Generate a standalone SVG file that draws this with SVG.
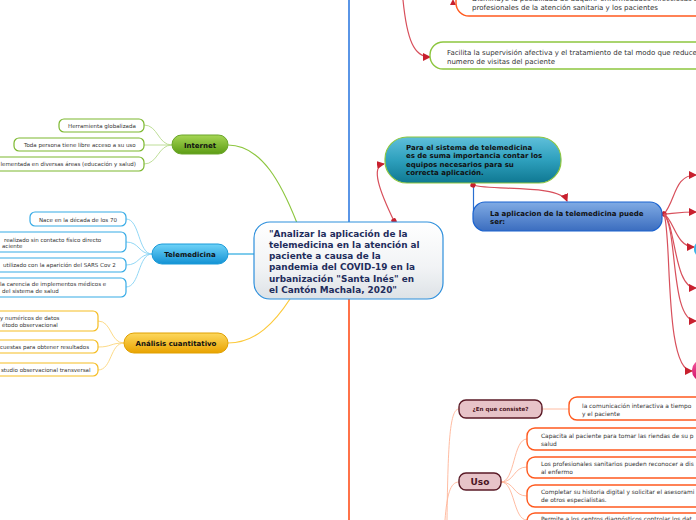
<svg xmlns="http://www.w3.org/2000/svg" width="696" height="520" viewBox="0 0 696 520">
<defs>
<linearGradient id="gCentral" x1="0" y1="0" x2="0" y2="1"><stop offset="0" stop-color="#ffffff"/><stop offset="0.6" stop-color="#f1f3f5"/><stop offset="1" stop-color="#dde2e6"/></linearGradient>
<linearGradient id="gGreen" x1="0" y1="0" x2="0" y2="1"><stop offset="0" stop-color="#a6d655"/><stop offset="1" stop-color="#5c9c14"/></linearGradient>
<linearGradient id="gBlue" x1="0" y1="0" x2="0" y2="1"><stop offset="0" stop-color="#6fd3f8"/><stop offset="1" stop-color="#1392d4"/></linearGradient>
<linearGradient id="gOrange" x1="0" y1="0" x2="0" y2="1"><stop offset="0" stop-color="#fdd85e"/><stop offset="1" stop-color="#e9a300"/></linearGradient>
<linearGradient id="gTeal" x1="0" y1="0" x2="0" y2="1"><stop offset="0" stop-color="#5fbfda"/><stop offset="0.5" stop-color="#2ea0bd"/><stop offset="1" stop-color="#0f7892"/></linearGradient>
<linearGradient id="gApp" x1="0" y1="0" x2="0" y2="1"><stop offset="0" stop-color="#80abe4"/><stop offset="1" stop-color="#3b6dbf"/></linearGradient>
<linearGradient id="gPink" x1="0" y1="0" x2="0" y2="1"><stop offset="0" stop-color="#f45a9e"/><stop offset="1" stop-color="#d01068"/></linearGradient>
<marker id="arr" markerWidth="8" markerHeight="8" refX="7" refY="4" orient="auto" markerUnits="userSpaceOnUse"><path d="M0,0 L8,4 L0,8 z" fill="#c8202e"/></marker>
<marker id="dot" markerWidth="6" markerHeight="6" refX="3" refY="3" orient="auto" markerUnits="userSpaceOnUse"><rect x="0.5" y="0.5" width="5" height="5" rx="1.5" fill="#c8202e"/></marker>
</defs>
<style>
text{font-family:"DejaVu Sans",Verdana,sans-serif;}
.s{font-size:5.5px;fill:#333;}
.r{font-size:5.9px;fill:#333;}
.m{font-size:7px;fill:#333;}
.b{font-size:7px;font-weight:bold;fill:#111;}
.c{font-size:8.9px;font-weight:bold;fill:#1f2d5c;}
.lg{fill:#fff;stroke:#7cb82f;stroke-width:1.2;}
.lb{fill:#fff;stroke:#36abe6;stroke-width:1.2;}
.ly{fill:#fff;stroke:#f5bd22;stroke-width:1.2;}
.lo{fill:#fff;stroke:#ff5a1f;stroke-width:1.4;}
.cg{fill:none;stroke:#b7da8c;stroke-width:0.9;}
.cb{fill:none;stroke:#86d2f4;stroke-width:0.9;}
.cy{fill:none;stroke:#fcd67a;stroke-width:0.9;}
.cs{fill:none;stroke:#ffb497;stroke-width:0.9;}
.cr{fill:none;stroke:#d8505c;stroke-width:1.2;}
.mr{fill:#e7c3c8;stroke:#5a1a26;stroke-width:1.4;}
.mt{font-weight:bold;fill:#4a1422;}
</style>

<g id="connectors">
<line x1="349" y1="0" x2="349" y2="222" stroke="#5a95e6" stroke-width="2"/>
<line x1="349" y1="299" x2="349" y2="520" stroke="#ff7248" stroke-width="2"/>
<path d="M228,145 C262,145 282,185 297,223" fill="none" stroke="#8dc63f" stroke-width="1.2"/>
<line x1="228" y1="254" x2="254" y2="254" stroke="#29a8e0" stroke-width="1.2"/>
<path d="M228,343 C256,343 275,322 290,299" fill="none" stroke="#fcc93a" stroke-width="1.2"/>
<path class="cg" d="M172,145 C158,145 158,125 144,125"/>
<path class="cg" d="M172,145 L144,145"/>
<path class="cg" d="M172,145 C158,145 158,164 144,164"/>
<path class="cb" d="M152,254 C138,254 140,219 126,219"/>
<path class="cb" d="M152,254 C138,254 140,242 126,242"/>
<path class="cb" d="M152,254 C138,254 140,265 126,265"/>
<path class="cb" d="M152,254 C138,254 140,287 126,287"/>
<path class="cy" d="M124,343 C110,343 112,321 98,321"/>
<path class="cy" d="M124,343 C110,343 112,347 98,347"/>
<path class="cy" d="M124,343 C110,343 112,370 98,370"/>
<path class="cr" d="M394,221 C380,192 370,166 384,164" marker-start="url(#dot)" marker-end="url(#arr)"/>
<path class="cr" d="M403,0 C407,40 414,57 430,57" marker-end="url(#arr)"/>
<path d="M450,5 L453,-1 L456,5 z" fill="#c8202e"/>
<line x1="473.5" y1="184" x2="473.5" y2="214" stroke="#2a6fd0" stroke-width="1.2"/>
<path class="cr" d="M473,185 C490,191 560,184 567,201" marker-start="url(#dot)" marker-end="url(#arr)"/>
<path class="cr" d="M664,214 C676,200 674,175 696,175" marker-start="url(#dot)" marker-end="url(#arr)"/>
<path class="cr" d="M664,214 C676,213 682,212 696,212" marker-end="url(#arr)"/>
<path class="cr" d="M664,214 C674,220 676,247 694,247" marker-end="url(#arr)"/>
<path class="cr" d="M664,214 C676,226 674,288 696,288" marker-end="url(#arr)"/>
<path class="cr" d="M664,214 C678,230 670,321 696,321" marker-end="url(#arr)"/>
<path class="cr" d="M664,214 C672,235 664,371 692,371" marker-end="url(#arr)"/>
<path class="cs" d="M447,520 C448,440 450,409 459,409"/>
<path class="cs" d="M445,520 C447,495 450,482 459,482"/>
<path class="cs" d="M542,409 L569,409"/>
<path class="cs" d="M501,482 C515,482 513,439 527,439"/>
<path class="cs" d="M501,482 C515,482 513,467 527,467"/>
<path class="cs" d="M501,482 C515,482 513,496 527,496"/>
<path class="cs" d="M501,482 C515,482 513,520 527,520"/>
</g>

<g id="central">
<rect x="254" y="222" width="189" height="77" rx="16" fill="url(#gCentral)" stroke="#2d8fdc" stroke-width="1.2"/>
<text class="c" x="269" y="236.5">"Analizar la aplicación de la</text>
<text class="c" x="269" y="247.8">telemedicina en la atención al</text>
<text class="c" x="269" y="259.1">paciente a causa de la</text>
<text class="c" x="269" y="270.4">pandemia del COVID-19 en la</text>
<text class="c" x="269" y="281.7">urbanización "Santa Inés" en</text>
<text class="c" x="269" y="293">el Cantón Machala, 2020"</text>
</g>

<g id="internet">
<rect x="172" y="135" width="56" height="19" rx="9.5" fill="url(#gGreen)" stroke="#6aa52a" stroke-width="1"/>
<text class="b" x="200" y="147.5" text-anchor="middle">Internet</text>
</g>
<g id="internet-1"><rect class="lg" x="59" y="119" width="85" height="13" rx="5"/><text class="s" x="68" y="127.5">Herramienta globalizada</text></g>
<g id="internet-2"><rect class="lg" x="14" y="138" width="130" height="13" rx="5"/><text class="s" x="24" y="146.5">Toda persona tiene libre acceso a su uso</text></g>
<g id="internet-3"><rect class="lg" x="-10" y="157" width="154" height="14" rx="5"/><text class="s" x="136" y="166" text-anchor="end">lementada en diversas áreas (educación y salud)</text></g>

<g id="telemedicina">
<rect x="152" y="244" width="76" height="20" rx="10" fill="url(#gBlue)" stroke="#1a9ad8" stroke-width="1"/>
<text class="b" x="190" y="256.5" text-anchor="middle">Telemedicina</text>
</g>
<g id="tele-1"><rect class="lb" x="30" y="212" width="96" height="14" rx="5"/><text class="s" x="39" y="221.5">Nace en la década de los 70</text></g>
<g id="tele-2"><rect class="lb" x="-10" y="232" width="136" height="20" rx="5"/><text class="s" x="4" y="241.5">realizado sin contacto físico directo</text><text class="s" x="2" y="248">aciente</text></g>
<g id="tele-3"><rect class="lb" x="-10" y="258" width="136" height="14" rx="5"/><text class="s" x="3" y="267">utilizado con la aparición del SARS Cov 2</text></g>
<g id="tele-4"><rect class="lb" x="-10" y="278" width="136" height="19" rx="5"/><text class="s" x="0" y="286">la carencia de implementos médicos e</text><text class="s" x="2" y="293">del sistema de salud</text></g>

<g id="analisis">
<rect x="124" y="333" width="104" height="20" rx="10" fill="url(#gOrange)" stroke="#e0a000" stroke-width="1"/>
<text class="b" x="176" y="345.5" text-anchor="middle">Análisis cuantitativo</text>
</g>
<g id="ana-1"><rect class="ly" x="-10" y="311" width="108" height="20" rx="5"/><text class="s" x="0" y="320">y numéricos de datos</text><text class="s" x="2" y="326.5">étodo observacional</text></g>
<g id="ana-2"><rect class="ly" x="-10" y="340" width="108" height="13" rx="5"/><text class="s" x="0" y="349">cuestas para obtener resultados</text></g>
<g id="ana-3"><rect class="ly" x="-10" y="363" width="108" height="13" rx="5"/><text class="s" x="1" y="372">studio observacional transversal</text></g>

<g id="para">
<rect x="385" y="137" width="176" height="46" rx="22" fill="url(#gTeal)" stroke="#8dc63f" stroke-width="1.2"/>
<text class="b" x="406" y="149.5">Para el sistema de telemedicina</text>
<text class="b" x="406" y="158">es de suma importancia contar los</text>
<text class="b" x="406" y="166.5">equipos necesarios para su</text>
<text class="b" x="406" y="175">correcta aplicación.</text>
</g>

<g id="aplicacion">
<rect x="473" y="202" width="189" height="29" rx="12" fill="url(#gApp)" stroke="#1a63d0" stroke-width="1.2"/>
<text class="b" x="490" y="215.5">La aplicacion de la telemedicina puede</text>
<text class="b" x="490" y="224">ser:</text>
</g>

<g id="right-cyan"><rect x="694" y="242" width="14" height="14" rx="6" fill="#3ab5e8"/></g>
<g id="right-pink"><rect x="692" y="360" width="30" height="21" rx="10" fill="url(#gPink)"/></g>

<g id="disminuye">
<rect class="lo" x="456" y="-20" width="300" height="36" rx="13"/>
<text class="m" x="472" y="1">Disminuye la posibilidad de adquirir enfermedades infecciosas a</text>
<text class="m" x="472" y="9.8">profesionales de la atención sanitaria y los pacientes</text>
</g>

<g id="facilita">
<rect x="430" y="42" width="300" height="27" rx="13" fill="#fff" stroke="#8dc63f" stroke-width="1.4"/>
<text class="m" x="447" y="54.5">Facilita la supervisión afectiva y el tratamiento de tal modo que reduce</text>
<text class="m" x="447" y="63.5">numero de visitas del paciente</text>
</g>

<g id="consiste">
<rect class="mr" x="459" y="400" width="83" height="18" rx="7"/>
<text class="mt" x="500.5" y="411" font-size="5.6" text-anchor="middle">¿En que consiste?</text>
</g>
<g id="consiste-1"><rect class="lo" x="569" y="397" width="200" height="23" rx="8"/><text class="r" x="582" y="408">la comunicación interactiva a tiempo</text><text class="r" x="582" y="415.5">y el paciente</text></g>

<g id="uso">
<rect class="mr" x="459" y="473" width="42" height="17" rx="7"/>
<text class="mt" x="480" y="485.3" font-size="9" text-anchor="middle">Uso</text>
</g>
<g id="uso-1"><rect class="lo" x="527" y="428" width="200" height="22" rx="8"/><text class="r" x="541" y="438">Capacita al paciente para tomar las riendas de su p</text><text class="r" x="541" y="445.5">salud</text></g>
<g id="uso-2"><rect class="lo" x="527" y="457" width="200" height="21" rx="8"/><text class="r" x="541" y="465.5">Los profesionales sanitarios pueden reconocer a dis</text><text class="r" x="541" y="474">al enfermo</text></g>
<g id="uso-3"><rect class="lo" x="527" y="485" width="200" height="22" rx="8"/><text class="r" x="541" y="494">Completar su historia digital y solicitar el asesorami</text><text class="r" x="541" y="501.5">de otros especialistas.</text></g>
<g id="uso-4"><rect class="lo" x="527" y="513" width="200" height="30" rx="8"/><text class="r" x="541" y="520.5">Permite a los centros diagnósticos controlar los dat</text></g>
</svg>
